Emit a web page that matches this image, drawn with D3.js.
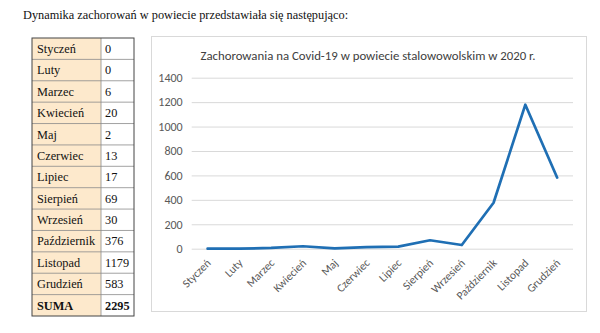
<!DOCTYPE html>
<html><head><meta charset="utf-8">
<script src="https://cdn.jsdelivr.net/npm/d3@7"></script>
<style>body{margin:0;background:#fff;}svg{display:block;}</style>
</head><body>
<svg id="c" width="600" height="333"></svg>
<script>
const months = ["Styczeń","Luty","Marzec","Kwiecień","Maj","Czerwiec","Lipiec","Sierpień","Wrzesień","Październik","Listopad","Grudzień"];
const cases = [0,0,6,20,2,13,17,69,30,376,1179,583];
const sumLabel = "SUMA";
const sumValue = 2295;
const yTicks = [0,200,400,600,800,1000,1200,1400];
const heading = "Dynamika zachorowań w powiecie przedstawiała się następująco:";
const chartTitle = "Zachorowania na Covid-19 w powiecie stalowowolskim w 2020 r.";

const svg = d3.select("#c");
const serif = "Liberation Serif";
const sans = "Carlito";

svg.append("text").attr("x",23).attr("y",19).style("font-family",serif)
  .attr("font-size",12.3).attr("fill","#111").text(heading);

// Table
const rows = months.map((m,i)=>({k:m,v:cases[i],bold:false})).concat([{k:sumLabel,v:sumValue,bold:true}]);
const tX0=32, tX1=101, tX2=134, tY0=38, tY1=316;
const ry = d3.scaleBand().domain(d3.range(rows.length)).range([tY0,tY1]);
const tg = svg.append("g");
tg.append("rect").attr("x",tX0).attr("y",tY0).attr("width",tX1-tX0).attr("height",tY1-tY0).attr("fill","#fde9cc");
const rg = tg.selectAll("g.r").data(rows).join("g");
rg.append("text").attr("x",tX0+5).attr("y",(d,i)=>ry(i)+ry.bandwidth()/2+4.3)
  .style("font-family",serif).attr("font-size",12.3).attr("font-weight",d=>d.bold?"bold":"normal")
  .attr("fill","#111").text(d=>d.k);
rg.append("text").attr("x",tX1+4).attr("y",(d,i)=>ry(i)+ry.bandwidth()/2+4.3)
  .style("font-family",serif).attr("font-size",12.3).attr("font-weight",d=>d.bold?"bold":"normal")
  .attr("fill","#111").text(d=>d.v);
tg.selectAll("line.h").data(d3.range(1,rows.length)).join("line")
  .attr("x1",tX0).attr("x2",tX2).attr("y1",i=>ry(i)).attr("y2",i=>ry(i))
  .attr("stroke","#8a8a8a").attr("stroke-width",0.8);
tg.append("line").attr("x1",tX1).attr("x2",tX1).attr("y1",tY0).attr("y2",tY1).attr("stroke","#8a8a8a").attr("stroke-width",0.8);
tg.append("rect").attr("x",tX0).attr("y",tY0).attr("width",tX2-tX0).attr("height",tY1-tY0)
  .attr("fill","none").attr("stroke","#444").attr("stroke-width",1);

// Chart box
svg.append("rect").attr("x",151.5).attr("y",36.5).attr("width",435).attr("height",275)
  .attr("fill","#fff").attr("stroke","#d9d9d9").attr("stroke-width",1);
svg.append("text").attr("x",368).attr("y",60).attr("text-anchor","middle")
  .style("font-family",sans).attr("font-size",12.8).attr("fill","#404040").text(chartTitle);

const x = d3.scaleBand().domain(months).range([191.7,573]);
const y = d3.scaleLinear().domain([0,1400]).range([248.7,77.7]);

const yAxis = d3.axisLeft(y).tickValues(yTicks).tickSize(-(573-191.7)).tickPadding(9).tickFormat(d3.format("d"));
const ya = svg.append("g").attr("transform","translate(191.7,0)").call(yAxis);
ya.select(".domain").remove();
ya.selectAll(".tick line").attr("stroke","#d9d9d9").attr("stroke-width",1);
ya.selectAll(".tick text").style("font-family",sans).attr("font-size",12).attr("fill","#595959");

const xAxis = d3.axisBottom(x).tickSize(0).tickPadding(0);
const xa = svg.append("g").attr("transform","translate(0,248.7)").call(xAxis);
xa.select(".domain").remove();
xa.selectAll(".tick text").style("font-family",sans).attr("font-size",11.4).attr("fill","#595959")
  .attr("text-anchor","end").attr("dy",null).attr("y",0).attr("x",0)
  .attr("transform","translate(4,15) rotate(-45)");

const line = d3.line().x((d,i)=>x(months[i])+x.bandwidth()/2).y(d=>y(d));
svg.append("path").datum(cases).attr("d",line).attr("fill","none")
  .attr("stroke","#1f6fb4").attr("stroke-width",2.7).attr("stroke-linejoin","round").attr("stroke-linecap","round");
</script>
</body></html>
